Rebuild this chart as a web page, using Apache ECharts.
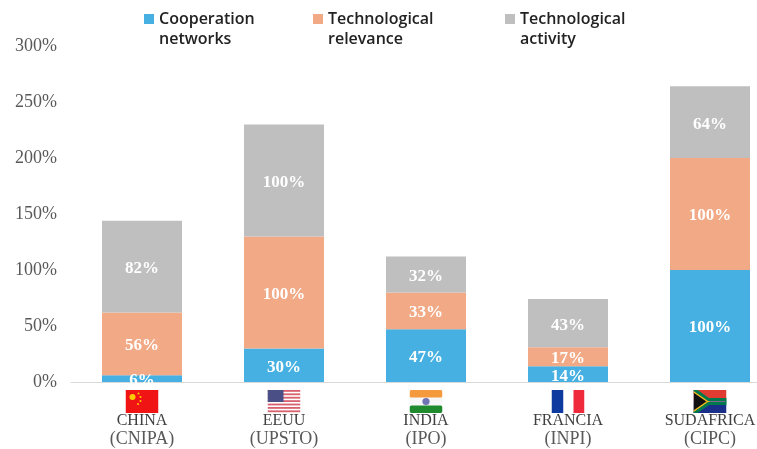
<!DOCTYPE html>
<html><head><meta charset="utf-8">
<style>html,body{margin:0;padding:0;background:#fff}#c{width:757px;height:449px}</style>
<script src="https://cdn.jsdelivr.net/npm/echarts@6/dist/echarts.min.js"></script>
</head><body><div id="c"></div>
<script>
const categories = ['CHINA','EEUU','INDIA','FRANCIA','SUDAFRICA'];
const offices = ['(CNIPA)','(UPSTO)','(IPO)','(INPI)','(CIPC)'];
const cooperation = [6,30,47,14,100];
const relevance = [56,100,33,17,100];
const activity = [82,100,32,43,64];
const flagKeys = ['cn','us','in','fr','za'];

function svg(body){
  return 'data:image/svg+xml;charset=utf-8,'+encodeURIComponent(
    '<svg xmlns="http://www.w3.org/2000/svg" width="33" height="23" viewBox="0 0 33 23">'+body+'</svg>');
}
let usStripes='<rect width="33" height="23" fill="#fff"/>';
for(let i=0;i<7;i++) usStripes+='<rect y="'+(i*3.4)+'" width="33" height="1.8" fill="#d8606f"/>';
const flags = {
  cn: svg('<rect width="33" height="23" fill="#f01414"/><circle cx="7" cy="7" r="3" fill="#fc0"/><circle cx="13" cy="3.5" r="1" fill="#fc0"/><circle cx="15" cy="7" r="1" fill="#fc0"/><circle cx="15" cy="11" r="1" fill="#fc0"/><circle cx="12.5" cy="14" r="1" fill="#fc0"/>'),
  us: svg(usStripes+'<rect width="16" height="12" fill="#4a4f86"/>'),
  in: svg('<rect width="33" height="8" rx="2" fill="#f59a3c"/><rect y="7.5" width="33" height="8" fill="#f7f7f7"/><rect y="15.5" width="33" height="7.5" rx="2" fill="#1f8a2e"/><circle cx="16.5" cy="11.5" r="3.6" fill="#6f74b5"/>'),
  fr: svg('<rect width="12" height="23" fill="#0d3a9e"/><rect x="12" width="10" height="23" fill="#fff"/><rect x="22" width="11" height="23" fill="#ee2a3c"/>'),
  za: svg('<rect width="33" height="11.5" fill="#e03c31"/><rect y="11.5" width="33" height="11.5" fill="#1a2f8a"/><path d="M0 0 L14 11.5 L0 23 Z" fill="#111"/><path d="M0 1.5 L14.5 11.5 L0 21.5" fill="none" stroke="#f4b81c" stroke-width="2"/><path d="M1 0 L14.5 8.5 H33 V14.5 H14.5 L1 23" fill="none" stroke="#fff" stroke-width="1.2"/><path d="M0 -1 L15 9.5 H33 V13.5 H15 L0 24" fill="none" stroke="#007a4d" stroke-width="3"/>')
};

const serif = '"Liberation Serif", serif';
const legendFont = {fontFamily:'"Open Sans", sans-serif',fontSize:16,fontWeight:600,color:'#222',lineHeight:20};
const flagRich = {};
flagKeys.forEach(k=>{flagRich[k]={width:33,height:23,backgroundColor:{image:flags[k]}};});

function legend(name,left){
  return {data:[name],left:left,top:-11,itemWidth:10,itemHeight:10,icon:'rect',padding:0,
    formatter:n=>'\n'+n.replace(' ','\n'),textStyle:legendFont,selectedMode:false,itemGap:0};
}
const barLabel = {show:true,position:'inside',offset:[0,2],formatter:'{c}%',color:'#fff',fontFamily:serif,fontSize:17,fontWeight:'bold'};
function bar(name,data,color){
  return {name:name,type:'bar',stack:'t',data:data,barWidth:80,itemStyle:{color:color},label:barLabel};
}
const chart = echarts.init(document.getElementById('c'),null,{renderer:'canvas'});
chart.setOption({
  animation:false,
  backgroundColor:'#fff',
  legend:[legend('Cooperation networks',144),legend('Technological relevance',313),legend('Technological activity',505)],
  grid:{left:71,width:710,top:46,height:336,outerBoundsMode:'none'},
  xAxis:{type:'category',data:categories,
    axisLine:{lineStyle:{color:'#d9d9d9',width:1}},axisTick:{show:false},
    axisLabel:{interval:0,margin:8,color:'#404040',
      formatter:(v,i)=>'{'+flagKeys[i]+'|}\n{name|'+v+'}\n{code|'+offices[i]+'}',
      rich:Object.assign({
        name:{fontFamily:serif,fontSize:16,color:'#404040',lineHeight:16},
        code:{fontFamily:serif,fontSize:18,color:'#595959',lineHeight:20}
      },flagRich)}},
  yAxis:{type:'value',min:0,max:300,interval:50,
    axisLine:{show:false},axisTick:{show:false},splitLine:{show:false},
    axisLabel:{formatter:'{value}%',fontFamily:serif,fontSize:18,color:'#595959',margin:14,padding:[4,0,0,0]}},
  series:[
    bar('Cooperation networks',cooperation,'#45b0e1'),
    bar('Technological relevance',relevance,'#f2a985'),
    bar('Technological activity',activity,'#bfbfbf')
  ]
});
</script></body></html>
